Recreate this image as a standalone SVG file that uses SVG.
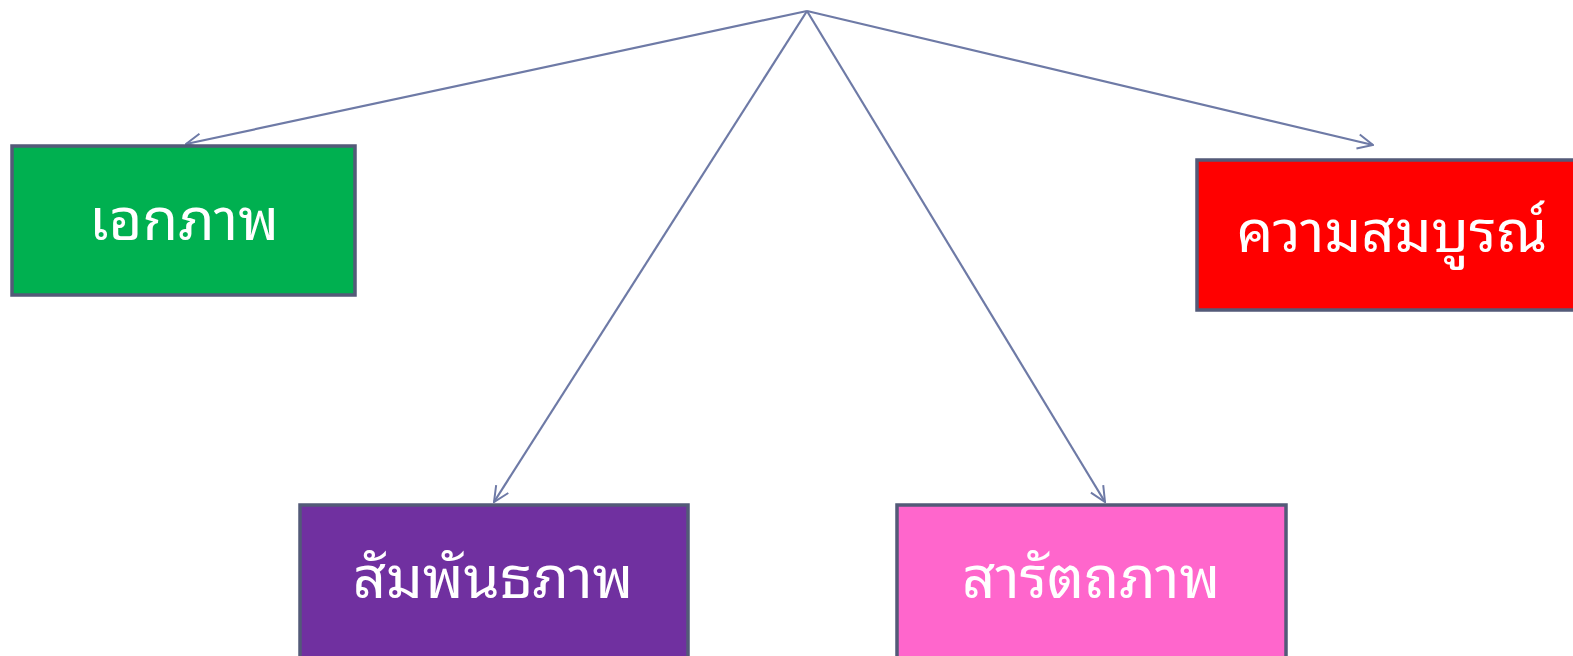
<svg xmlns="http://www.w3.org/2000/svg" width="1573" height="656" viewBox="0 0 1573 656">
<style>
.box{stroke:#535a78;stroke-width:3.5}
.lbl{font-family:"Noto Sans Thai Looped","Noto Looped Thai","Noto Serif Thai","Noto Sans Thai","Noto Sans","DejaVu Sans",sans-serif;font-size:58px;fill:#ffffff;text-anchor:middle}
.conn{stroke:#6e7aa6;stroke-width:2.2;fill:none;marker-end:url(#arr)}
</style>
<defs>
<marker id="arr" viewBox="0 0 20 20" refX="19" refY="10" markerWidth="18" markerHeight="18" markerUnits="userSpaceOnUse" orient="auto">
<path d="M2,2 L19,10 L2,18" fill="none" stroke="#6e7aa6" stroke-width="2.2"/>
</marker>
</defs>
<rect width="1573" height="656" fill="#ffffff"/>
<g id="connectors">
<line class="conn" x1="807" y1="11" x2="186" y2="144"/>
<line class="conn" x1="807" y1="11" x2="1373" y2="145"/>
<line class="conn" x1="807" y1="11" x2="494" y2="502"/>
<line class="conn" x1="807" y1="11" x2="1105" y2="502"/>
</g>
<g id="n1"><rect class="box" x="12" y="146" width="343" height="149" fill="#00b050"/><text class="lbl" x="184" y="240">เอกภาพ</text></g>
<g id="n2"><rect class="box" x="1197" y="160" width="390" height="150" fill="#ff0000"/><text class="lbl" x="1392" y="252">ความสมบูรณ์</text></g>
<g id="n3"><rect class="box" x="300" y="505" width="388" height="160" fill="#7030a0"/><text class="lbl" x="493" y="598">สัมพันธภาพ</text></g>
<g id="n4"><rect class="box" x="897" y="505" width="389" height="160" fill="#ff66cc"/><text class="lbl" x="1091" y="598">สารัตถภาพ</text></g>
</svg>
